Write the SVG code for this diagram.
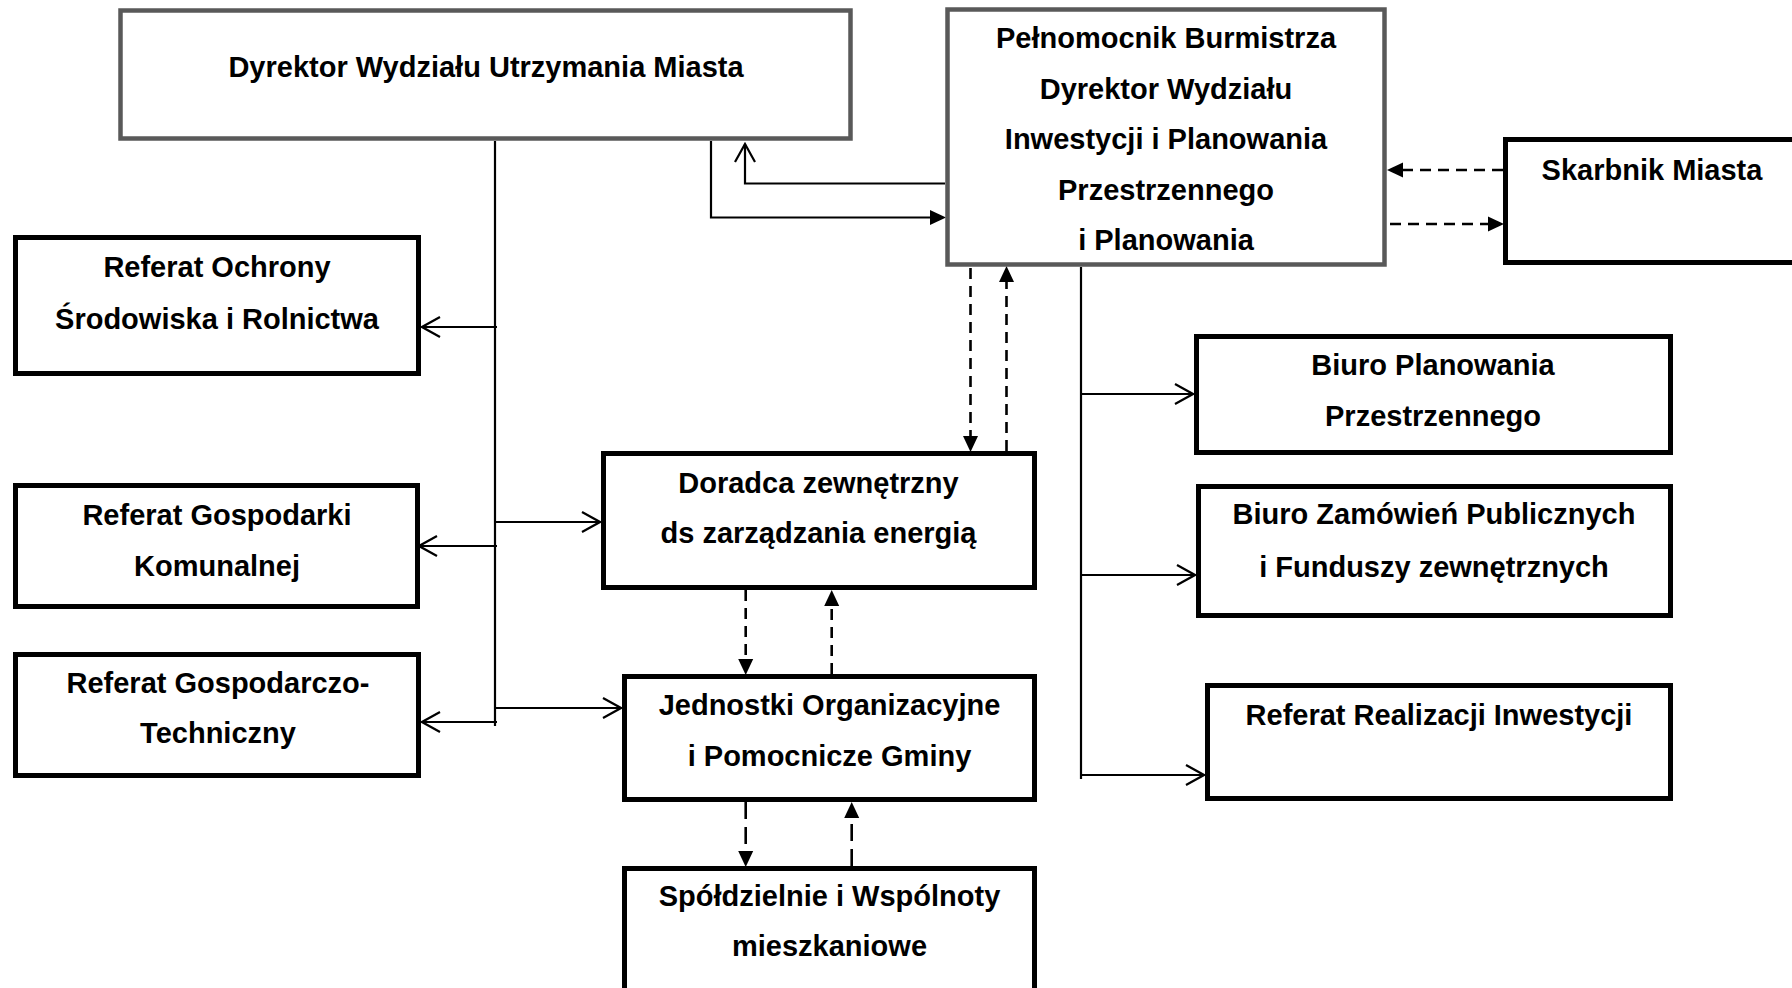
<svg xmlns="http://www.w3.org/2000/svg" width="1792" height="988" viewBox="0 0 1792 988">
<style>
.box{fill:#fff;stroke:#000;stroke-width:5}
.gbox{fill:#fff;stroke:#595959;stroke-width:4.5}
text{font-family:"Liberation Sans",Arial,sans-serif;font-weight:bold;font-size:29px;fill:#000;text-anchor:middle}
.ln{fill:none;stroke:#000;stroke-width:2.2}
.open{marker-end:url(#openArr)}
.fill{marker-end:url(#fillArr)}
.dash{stroke-dasharray:11 7;stroke-width:2.6}
.ldash{stroke-dasharray:17 8;stroke-width:2.6}
</style>
<defs>
<marker id="openArr" viewBox="0 0 22 22" refX="20" refY="11" markerWidth="22" markerHeight="22" markerUnits="userSpaceOnUse" orient="auto">
<path d="M2,1 L20,11 L2,21" fill="none" stroke="#000" stroke-width="2.2"/>
</marker>
<marker id="fillArr" viewBox="0 0 16 16" refX="7" refY="8" markerWidth="16" markerHeight="16" markerUnits="userSpaceOnUse" orient="auto">
<path d="M0,0.5 L16,8 L0,15.5 z" fill="#000"/>
</marker>
</defs>
<rect width="1792" height="988" fill="#fff"/>

<g id="connectors">
<path class="ln" d="M495,141 V726"/>
<path class="ln open" d="M497,327 H422"/>
<path class="ln open" d="M497,546 H419"/>
<path class="ln open" d="M497,722 H422"/>
<path class="ln open" d="M495,522 H600"/>
<path class="ln open" d="M495,708 H621"/>
<path class="ln fill" d="M711,141 V217.5 H937"/>
<path class="ln open" d="M945,183.5 H745 V144"/>
<path class="ln" d="M1081,267 V779"/>
<path class="ln open" d="M1081,394 H1193"/>
<path class="ln open" d="M1081,575 H1195"/>
<path class="ln open" d="M1081,775 H1204"/>
<path class="ln dash fill" d="M970.5,268 V443"/>
<path class="ln dash fill" d="M1006.5,451 V275"/>
<path class="ln dash fill" d="M1503,170 H1396"/>
<path class="ln dash fill" d="M1390,224 H1495"/>
<path class="ln dash fill" d="M745.7,590 V666"/>
<path class="ln dash fill" d="M831.7,674 V599"/>
<path class="ln ldash fill" d="M745.7,802 V858"/>
<path class="ln ldash fill" d="M851.7,866 V811"/>
</g>

<g id="dyrektor-utrzymania">
<rect class="gbox" x="120.5" y="10.5" width="730" height="128"/>
<text x="486" y="77">Dyrektor Wydziału Utrzymania Miasta</text>
</g>
<g id="pelnomocnik">
<rect class="gbox" x="947.5" y="9.5" width="437" height="255"/>
<text x="1166" y="48">Pełnomocnik Burmistrza</text>
<text x="1166" y="99">Dyrektor Wydziału</text>
<text x="1166" y="148.5">Inwestycji i Planowania</text>
<text x="1166" y="199.5">Przestrzennego</text>
<text x="1166" y="250">i Planowania</text>
</g>
<g id="skarbnik">
<rect class="box" x="1505.5" y="139.5" width="300" height="123"/>
<text x="1652" y="180">Skarbnik Miasta</text>
</g>
<g id="ref-ochrony">
<rect class="box" x="15.5" y="237.5" width="403" height="136"/>
<text x="217" y="277">Referat Ochrony</text>
<text x="217" y="329">Środowiska i Rolnictwa</text>
</g>
<g id="ref-gospodarki">
<rect class="box" x="15.5" y="485.5" width="402" height="121"/>
<text x="217" y="525">Referat Gospodarki</text>
<text x="217" y="576">Komunalnej</text>
</g>
<g id="ref-gospodarczo">
<rect class="box" x="15.5" y="654.5" width="403" height="121"/>
<text x="218" y="693">Referat Gospodarczo-</text>
<text x="218" y="743">Techniczny</text>
</g>
<g id="doradca">
<rect class="box" x="603.5" y="453.5" width="431" height="134"/>
<text x="818.5" y="492.5">Doradca zewnętrzny</text>
<text x="818.5" y="543">ds zarządzania energią</text>
</g>
<g id="jednostki">
<rect class="box" x="624.5" y="676.5" width="410" height="123"/>
<text x="829.5" y="715">Jednostki Organizacyjne</text>
<text x="829.5" y="766">i Pomocnicze Gminy</text>
</g>
<g id="spoldzielnie">
<rect class="box" x="624.5" y="868.5" width="410" height="130"/>
<text x="829.5" y="905.5">Spółdzielnie i Wspólnoty</text>
<text x="829.5" y="956">mieszkaniowe</text>
</g>
<g id="biuro-planowania">
<rect class="box" x="1196.5" y="336.5" width="474" height="116"/>
<text x="1433" y="375">Biuro Planowania</text>
<text x="1433" y="426">Przestrzennego</text>
</g>
<g id="biuro-zamowien">
<rect class="box" x="1198.5" y="486.5" width="472" height="129"/>
<text x="1434" y="524">Biuro Zamówień Publicznych</text>
<text x="1434" y="577">i Funduszy zewnętrznych</text>
</g>
<g id="ref-realizacji">
<rect class="box" x="1207.5" y="685.5" width="463" height="113"/>
<text x="1439" y="725">Referat Realizacji Inwestycji</text>
</g>
</svg>
